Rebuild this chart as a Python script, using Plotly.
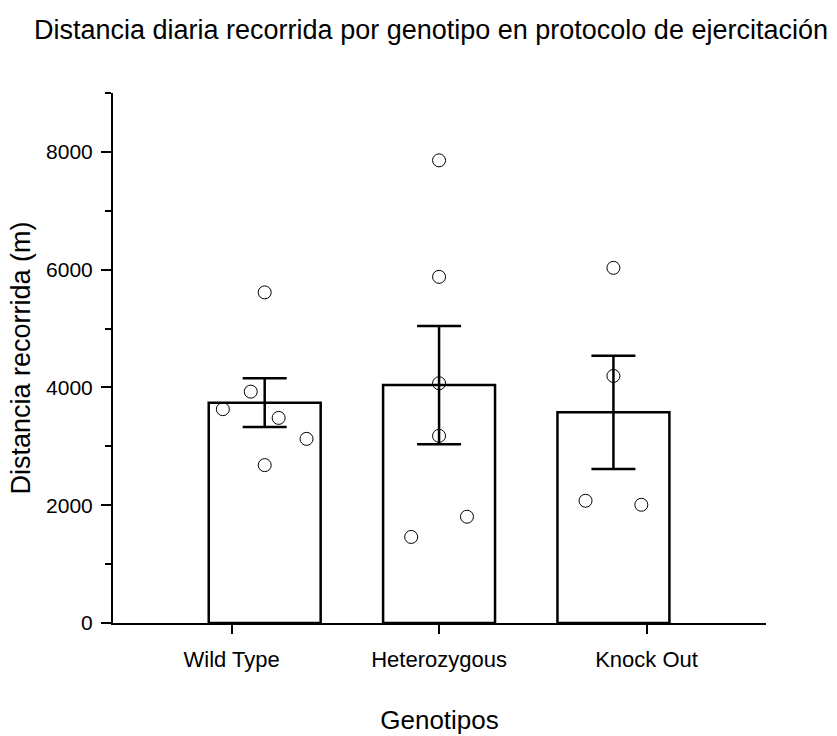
import plotly.graph_objects as go

# Genotype groups
genotypes = ["Wild Type", "Heterozygous", "Knock Out"]

# Group means and standard errors of daily distance (m)
mean_distance = [3742, 4040, 3578]
sem_distance = [414, 1005, 962]

# Individual animals: group index, horizontal spread within the bar, distance (m)
animal_group = [0, 0, 0, 0, 0, 0,
                1, 1, 1, 1, 1, 1,
                2, 2, 2, 2]
animal_spread = [-0.24, -0.08, 0.0, 0.08, 0.24, 0.0,
                 0.0, 0.0, 0.0, 0.0, -0.16, 0.16,
                 0.0, 0.0, -0.16, 0.16]
animal_distance = [3631, 3929, 5614, 3483, 3127, 2681,
                   7856, 5878, 4071, 3178, 1461, 1805,
                   6031, 4195, 2076, 2008]

FONT = "Liberation Sans, Arial, sans-serif"
LABEL_SPREAD = 1.19  # spacing of the category labels relative to the bars

group_pos = list(range(len(genotypes)))
label_pos = [1 + (i - 1) * LABEL_SPREAD for i in group_pos]
animal_x = [g + s for g, s in zip(animal_group, animal_spread)]

fig = go.Figure()

fig.add_trace(go.Bar(
    x=group_pos,
    y=mean_distance,
    width=0.642,
    marker=dict(color="white", line=dict(color="black", width=2.5)),
    error_y=dict(type="data", array=sem_distance, visible=True,
                 color="black", thickness=2.5, width=22),
    showlegend=False,
    hoverinfo="skip",
))

fig.add_trace(go.Scatter(
    x=animal_x,
    y=animal_distance,
    mode="markers",
    marker=dict(symbol="circle-open", size=13, color="black",
                line=dict(width=1, color="black")),
    showlegend=False,
))

fig.update_layout(
    width=837,
    height=736,
    paper_bgcolor="white",
    plot_bgcolor="white",
    margin=dict(l=113, r=71, t=92.5, b=112.5),
    font=dict(family=FONT, color="black"),
    title=dict(
        text="Distancia diaria recorrida por genotipo en protocolo de ejercitación",
        font=dict(family=FONT, size=27, color="black"),
        x=431 / 837, xanchor="center", xref="container",
        y=1 - 30 / 736, yanchor="middle", yref="container",
    ),
    xaxis=dict(
        range=[-0.87, 2.875],
        automargin=False,
        tickmode="array",
        tickvals=label_pos,
        ticktext=genotypes,
        ticks="outside",
        ticklen=9,
        tickwidth=2,
        tickcolor="black",
        ticklabelstandoff=7,
        showline=True,
        linecolor="black",
        linewidth=2,
        showgrid=False,
        zeroline=False,
        tickfont=dict(family=FONT, size=22, color="black"),
        title=dict(text="Genotipos", font=dict(family=FONT, size=26, color="black"),
                   standoff=39),
    ),
    yaxis=dict(
        range=[0, 9000],
        automargin=False,
        tickmode="linear",
        tick0=0,
        dtick=2000,
        ticks="outside",
        ticklen=10,
        tickwidth=2,
        tickcolor="black",
        ticklabelstandoff=4,
        minor=dict(dtick=1000, ticks="outside", ticklen=6, tickwidth=2,
                   tickcolor="black", showgrid=False),
        showline=True,
        linecolor="black",
        linewidth=2,
        showgrid=False,
        zeroline=False,
        tickfont=dict(family=FONT, size=21, color="black"),
        title=dict(text="Distancia recorrida (m)",
                   font=dict(family=FONT, size=27, color="black"),
                   standoff=8),
    ),
)

fig.write_html("out.html")
